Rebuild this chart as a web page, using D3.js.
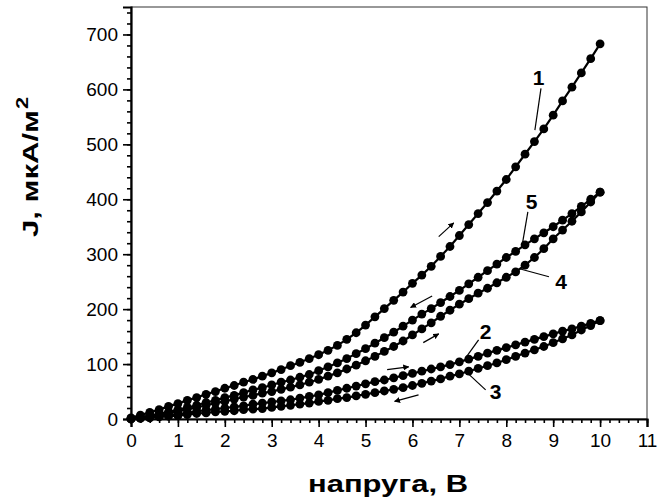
<!DOCTYPE html>
<html>
<head>
<meta charset="utf-8">
<style>
    body { margin: 0; background: #fff; }
    text { font-family: Arial, 'Liberation Sans', sans-serif; }
</style>
</head>
<body>
<script src="https://d3js.org/d3.v7.min.js"></script>
<script>
    // voltage steps, V
    var volts = [0, 0.2, 0.4, 0.6, 0.8, 1.0, 1.2, 1.4, 1.6, 1.8,
        2.0, 2.2, 2.4, 2.6, 2.8, 3.0, 3.2, 3.4, 3.6, 3.8,
        4.0, 4.2, 4.4, 4.6, 4.8, 5.0, 5.2, 5.4, 5.6, 5.8,
        6.0, 6.2, 6.4, 6.6, 6.8, 7.0, 7.2, 7.4, 7.6, 7.8,
        8.0, 8.2, 8.4, 8.6, 8.8, 9.0, 9.2, 9.4, 9.6, 9.8, 10.0];

    // current density, mkA/m2
    var curve1 = [2, 7, 12, 17, 23, 28, 34, 39, 45, 50,
        56, 61, 67, 72, 78, 84, 90, 97, 103, 110,
        117, 125, 134, 145, 157, 171, 186, 201, 216, 231,
        247, 262, 278, 296, 314, 334, 354, 374, 394, 415,
        436, 459, 482, 505, 528, 553, 579, 604, 630, 656, 683];
    var curve2 = [0, 2, 3, 5, 7, 9, 11, 14, 16, 18,
        20, 22, 24, 27, 29, 31, 33, 35, 38, 41,
        44, 48, 52, 56, 60, 64, 68, 71, 75, 79,
        83, 87, 91, 95, 99, 104, 109, 114, 120, 125,
        130, 135, 140, 145, 150, 155, 160, 164, 169, 174, 179];
    var curve3 = [0, 1, 2, 4, 5, 6, 8, 10, 11, 13,
        14, 15, 17, 18, 19, 21, 23, 25, 27, 29,
        32, 34, 37, 39, 42, 45, 48, 51, 54, 57,
        61, 65, 69, 73, 78, 82, 87, 92, 97, 102,
        108, 114, 120, 126, 132, 139, 146, 153, 162, 170, 179];
    var curve4 = [0, 2, 5, 8, 11, 14, 18, 21, 25, 29,
        32, 36, 40, 43, 47, 50, 54, 58, 62, 67,
        72, 78, 84, 91, 98, 106, 114, 123, 132, 142,
        153, 164, 175, 187, 198, 209, 219, 229, 238, 248,
        258, 268, 280, 294, 310, 328, 344, 360, 377, 395, 413];
    var curve5 = [1, 3, 6, 10, 13, 17, 21, 25, 30, 34,
        39, 43, 48, 53, 57, 62, 67, 71, 76, 81,
        88, 95, 102, 110, 119, 128, 138, 148, 158, 169,
        180, 191, 201, 212, 223, 234, 246, 258, 270, 282,
        294, 305, 317, 328, 339, 350, 362, 374, 387, 400, 413];

    var seriesNames = ['1', '2', '3', '4', '5'];
    var seriesValues = [curve1, curve2, curve3, curve4, curve5];

    var xTicks = [0, 1, 2, 3, 4, 5, 6, 7, 8, 9, 10, 11];
    var yTicks = [0, 100, 200, 300, 400, 500, 600, 700];

    // curve labels: [name, labelV, labelJ, lineFromV, lineFromJ, lineToV, lineToJ]
    var curveLabels = [
        ['1', 8.69, 622, 8.74, 602, 8.61, 526],
        ['5', 8.54, 396, 8.46, 377, 8.34, 317],
        ['4', 9.17, 250, 8.91, 259, 8.30, 273],
        ['2', 7.56, 159, 7.41, 144, 7.13, 111],
        ['3', 7.77, 50, 7.56, 53, 7.17, 84]
    ];
    // sweep direction arrows: [fromV, fromJ, toV, toJ]
    var sweepArrows = [
        [6.56, 332, 6.88, 357],
        [6.42, 224, 5.96, 203],
        [6.23, 139, 6.56, 155],
        [5.46, 90, 5.92, 95],
        [6.13, 44, 5.62, 32]
    ];

    var margin = {left: 131, top: 7, right: 18, bottom: 81},
        width = 665 - margin.left - margin.right,
        height = 500 - margin.top - margin.bottom;

    var root = d3.select('body').append('svg')
        .attr('width', 665)
        .attr('height', 500);
    var svg = root.append('g')
        .attr('transform', 'translate(' + [margin.left, margin.top] + ')');

    var x = d3.scaleLinear().domain([0, 11]).range([0, width]);
    var y = d3.scaleLinear().domain([0, 750]).range([height, 0]);

    // frame (top and right thin)
    svg.append('rect')
        .attr('x', 0).attr('y', 0)
        .attr('width', width).attr('height', height)
        .attr('fill', 'none')
        .attr('stroke', '#333')
        .attr('stroke-width', 1);

    // minor ticks
    var xMinor = d3.range(0, 11.001, 0.2).map(d => Math.round(d * 10) / 10);
    var yMinor = d3.range(0, 741, 20);
    svg.append('g')
        .attr('class', 'minor')
        .attr('transform', 'translate(0,' + height + ')')
        .call(d3.axisBottom(x).tickValues(xMinor).tickSize(4).tickFormat(''));
    svg.append('g')
        .attr('class', 'minor')
        .call(d3.axisLeft(y).tickValues(yMinor).tickSize(4).tickFormat(''));

    svg.append('g')
        .attr('transform', 'translate(0,' + height + ')')
        .call(d3.axisBottom(x).tickValues(xTicks).tickSize(8).tickPadding(7).tickFormat(d3.format('d')));
    svg.append('g')
        .call(d3.axisLeft(y).tickValues(yTicks).tickSize(8).tickPadding(5).tickFormat(d3.format('d')));

    svg.selectAll('.domain').attr('stroke', '#000').attr('stroke-width', 2.2);
    svg.selectAll('.minor .domain').remove();
    svg.selectAll('.tick line').attr('stroke', '#000').attr('stroke-width', 1.6);
    svg.selectAll('.tick text')
        .attr('font-size', 19)
        .attr('fill', '#000')
        .attr('font-family', 'Arial, Liberation Sans, sans-serif');

    // axis titles (the original lettering is wide, so stretch to its length)
    root.append('text')
        .attr('x', 308)
        .attr('y', 492)
        .attr('font-size', 23)
        .attr('font-weight', 'bold')
        .attr('textLength', 160)
        .attr('lengthAdjust', 'spacingAndGlyphs')
        .text('напруга, В');

    var yTitle = root.append('g')
        .attr('transform', 'translate(38,237) rotate(-90)');
    yTitle.append('text')
        .attr('x', 0).attr('y', 0)
        .attr('font-size', 22)
        .attr('font-weight', 'bold')
        .attr('textLength', 127)
        .attr('lengthAdjust', 'spacingAndGlyphs')
        .text('J, мкА/м');
    yTitle.append('text')
        .attr('x', 128).attr('y', -10)
        .attr('font-size', 17)
        .attr('font-weight', 'bold')
        .attr('textLength', 12)
        .attr('lengthAdjust', 'spacingAndGlyphs')
        .text('2');

    // curves
    var line = d3.line()
        .x(d => x(d[0]))
        .y(d => y(d[1]));

    var curves = svg.selectAll('g.curve')
        .data(seriesValues.map((vals, i) => ({
            name: seriesNames[i],
            points: volts.map((v, j) => [v, vals[j]])
        })))
        .enter().append('g')
        .attr('class', 'curve');
    curves.append('path')
        .attr('d', d => line(d.points))
        .attr('fill', 'none')
        .attr('stroke', '#000')
        .attr('stroke-width', 2.2);
    curves.selectAll('circle')
        .data(d => d.points)
        .enter().append('circle')
        .attr('cx', d => x(d[0]))
        .attr('cy', d => y(d[1]))
        .attr('r', 4.4)
        .attr('fill', '#000');

    // labels with pointer lines
    var labels = svg.selectAll('g.lbl')
        .data(curveLabels)
        .enter().append('g')
        .attr('class', 'lbl');
    labels.append('line')
        .attr('x1', d => x(d[3])).attr('y1', d => y(d[4]))
        .attr('x2', d => x(d[5])).attr('y2', d => y(d[6]))
        .attr('stroke', '#000')
        .attr('stroke-width', 1.2);
    labels.append('text')
        .attr('x', d => x(d[1]))
        .attr('y', d => y(d[2]))
        .attr('dy', '0.36em')
        .attr('text-anchor', 'middle')
        .attr('font-size', 21)
        .attr('font-weight', 'bold')
        .text(d => d[0]);

    // arrows
    root.append('defs').append('marker')
        .attr('id', 'head')
        .attr('viewBox', '0 0 10 10')
        .attr('refX', 9).attr('refY', 5)
        .attr('markerWidth', 6).attr('markerHeight', 6)
        .attr('markerUnits', 'userSpaceOnUse')
        .attr('orient', 'auto')
        .append('path')
        .attr('d', 'M0,0 L10,5 L0,10 Z')
        .attr('fill', '#000');
    svg.selectAll('line.arrow')
        .data(sweepArrows)
        .enter().append('line')
        .attr('class', 'arrow')
        .attr('x1', d => x(d[0])).attr('y1', d => y(d[1]))
        .attr('x2', d => x(d[2])).attr('y2', d => y(d[3]))
        .attr('stroke', '#000')
        .attr('stroke-width', 1.2)
        .attr('marker-end', 'url(#head)');
</script>
</body>
</html>
